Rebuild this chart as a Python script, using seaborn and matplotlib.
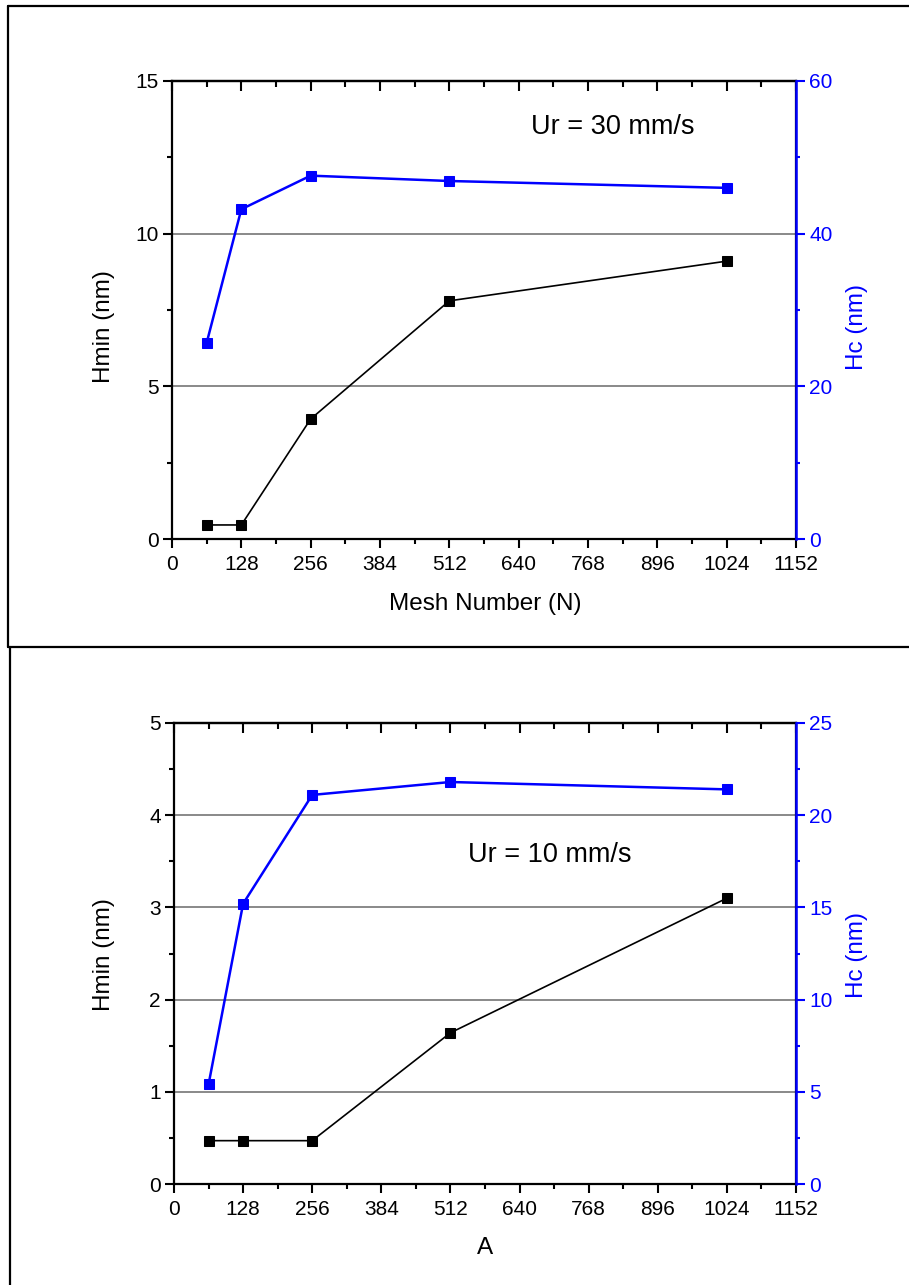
import matplotlib
matplotlib.use('Agg')
import matplotlib.pyplot as plt
import seaborn as sns
from matplotlib.lines import Line2D
from matplotlib.ticker import MultipleLocator

# DATA
mesh = [64, 128, 256, 512, 1024]
hmin_30 = [0.46, 0.46, 3.93, 7.8, 9.1]
hc_30 = [25.7, 43.2, 47.6, 46.9, 46.0]
hmin_10 = [0.47, 0.47, 0.47, 1.64, 3.1]
hc_10 = [5.4, 15.2, 21.1, 21.8, 21.4]

x_ticks = [0, 128, 256, 384, 512, 640, 768, 896, 1024, 1152]

sns.set_style('ticks')
plt.rcParams['font.family'] = ['Liberation Sans', 'DejaVu Sans']
plt.rcParams['text.color'] = 'black'
plt.rcParams['xtick.color'] = 'black'
plt.rcParams['ytick.color'] = 'black'
plt.rcParams['axes.edgecolor'] = 'black'

W, H = 909, 1285
fig = plt.figure(figsize=(W / 100, H / 100), dpi=100)

BLUE = '#0000ff'


def fx(px):
    return px / W


def fy(py):
    return 1 - py / H


def panel(rect, hmin, hc, ymax, ymax2, ymin_step, y2_step, note, note_xy, xlabel, xlabel_y, ylab_y):
    ax = fig.add_axes(rect)
    ax2 = ax.twinx()

    sns.lineplot(x=mesh, y=hmin, ax=ax, color='black', marker='s', markersize=7,
                 markeredgecolor='black', linewidth=1.2)
    sns.lineplot(x=mesh, y=hc, ax=ax2, color=BLUE, marker='s', markersize=7.5,
                 markeredgecolor=BLUE, linewidth=1.8)

    ax.set_xlim(0, 1152)
    ax.set_ylim(0, ymax)
    ax2.set_ylim(0, ymax2)
    ax.set_xticks(x_ticks)
    ax.xaxis.set_minor_locator(MultipleLocator(64))
    ax.yaxis.set_major_locator(MultipleLocator(ymin_step))
    ax.yaxis.set_minor_locator(MultipleLocator(ymin_step / 2))
    ax2.yaxis.set_major_locator(MultipleLocator(y2_step))
    ax2.yaxis.set_minor_locator(MultipleLocator(y2_step / 2))

    ax.grid(axis='y', which='major', color='#808080', linewidth=1.3)
    ax.set_axisbelow(True)

    for sp in ax.spines.values():
        sp.set_linewidth(1.6)
        sp.set_visible(True)
        sp.set_color('black')
    for sp in ax2.spines.values():
        sp.set_visible(False)
    ax2.spines['right'].set_visible(True)
    ax2.spines['right'].set_color(BLUE)
    ax2.spines['right'].set_linewidth(1.8)

    ax.tick_params(axis='x', which='major', direction='out', length=6.5, width=1.5,
                   labelsize=15, pad=5)
    ax.tick_params(axis='x', which='minor', direction='out', length=3.8, width=1.5)
    ax.tick_params(axis='y', which='major', direction='out', length=6.5, width=1.5,
                   labelsize=15, pad=3)
    ax.tick_params(axis='y', which='minor', direction='out', length=3.8, width=1.5)
    ax2.tick_params(axis='y', which='major', direction='out', length=6.5, width=1.5,
                    labelsize=15, pad=3, colors=BLUE)
    ax2.tick_params(axis='y', which='minor', direction='out', length=3.2, width=1.5,
                    colors=BLUE)

    top = ax.secondary_xaxis('top')
    top.set_xticks(x_ticks)
    top.xaxis.set_minor_locator(MultipleLocator(64))
    top.tick_params(axis='x', which='major', direction='in', length=7, width=1.5,
                    labeltop=False)
    top.tick_params(axis='x', which='minor', direction='in', length=4.3, width=1.5)
    top.spines['top'].set_linewidth(1.6)

    ax.set_xlabel('')
    ax.set_ylabel('')
    ax2.set_ylabel('')

    ax.text(note_xy[0], note_xy[1], note, fontsize=19.5, ha='left', va='center')

    fig.text(fx(104), fy(ylab_y), 'Hmin (nm)', rotation=90, fontsize=17.5,
             ha='center', va='center')
    fig.text(fx(857), fy(ylab_y), 'Hc (nm)', rotation=90, fontsize=17.5,
             ha='center', va='center', color=BLUE)
    fig.text(fx(485), fy(xlabel_y), xlabel, fontsize=17.5, ha='center', va='center')
    return ax, ax2


# TOP PANEL (Ur = 30 mm/s)
panel([fx(172), fy(539), fx(796) - fx(172), fy(81) - fy(539)],
      hmin_30, hc_30, 15, 60, 5, 20, 'Ur = 30 mm/s', (662, 13.5),
      'Mesh Number (N)', 604, 327)

# BOTTOM PANEL (Ur = 10 mm/s)
panel([fx(174), fy(1184), fx(796) - fx(174), fy(723) - fy(1184)],
      hmin_10, hc_10, 5, 25, 1, 5, 'Ur = 10 mm/s', (545, 3.57),
      'A', 1248, 955)

# PANEL FRAMES
frame = dict(color='black', linewidth=1.6, transform=fig.transFigure)
fig.add_artist(Line2D([fx(8), fx(8)], [fy(6), fy(647)], **frame))
fig.add_artist(Line2D([fx(8), fx(912)], [fy(6), fy(6)], **frame))
fig.add_artist(Line2D([fx(8), fx(912)], [fy(647), fy(647)], **frame))
fig.add_artist(Line2D([fx(10), fx(10)], [fy(647), fy(1290)], **frame))

fig.savefig('out.png', dpi=100)
